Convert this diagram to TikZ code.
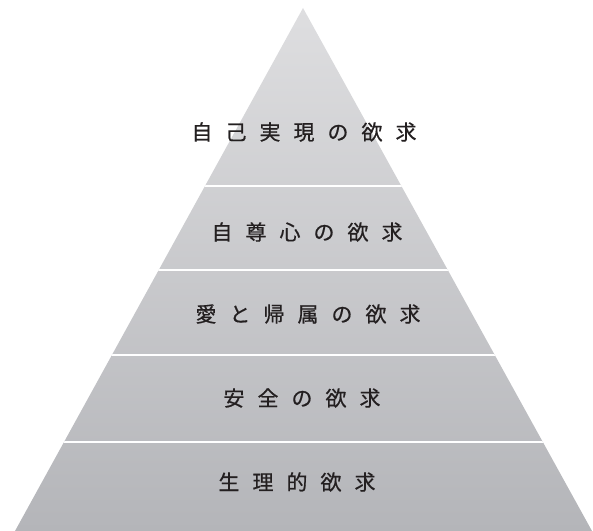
\documentclass[tikz,border=0pt]{standalone}
\usepackage{fontspec}
\newfontfamily\cjk[FakeBold=0.6]{Noto Sans CJK JP}
\definecolor{toptone}{RGB}{222,222,224}
\definecolor{bottone}{RGB}{180,181,185}
\definecolor{inktone}{RGB}{35,31,32}
\tikzset{
  level/.style={font=\cjk\fontsize{21bp}{24bp}\selectfont, text=inktone, inner sep=0pt},
  sepline/.style={draw=white, line width=2bp}
}
\newcommand{\gapk}{\hspace{13bp}}
\begin{document}
\begin{tikzpicture}[x=1bp,y=-1bp]
\useasboundingbox (0,0) rectangle (593,531);
\coordinate (apex) at (303,8);
\coordinate (bl) at (15,531);
\coordinate (br) at (592,531);
\shade[top color=toptone, bottom color=bottone] (apex) -- (bl) -- (br) -- cycle;
\begin{scope}
\clip (apex) -- (bl) -- (br) -- cycle;
\foreach \yy in {186,270,355,442} {
  \draw[sepline] (0,\yy) -- (593,\yy);
}
\end{scope}
\node[level] (l5) at (304,132) {自\gapk 己\gapk 実\gapk 現\gapk の\gapk 欲\gapk 求};
\node[level] (l4) at (307,232) {自\gapk 尊\gapk 心\gapk の\gapk 欲\gapk 求};
\node[level] (l3) at (308,314) {愛\gapk と\gapk 帰\gapk 属\gapk の\gapk 欲\gapk 求};
\node[level] (l2) at (302,398) {安\gapk 全\gapk の\gapk 欲\gapk 求};
\node[level] (l1) at (297,482) {生\gapk 理\gapk 的\gapk 欲\gapk 求};
\end{tikzpicture}
\end{document}
